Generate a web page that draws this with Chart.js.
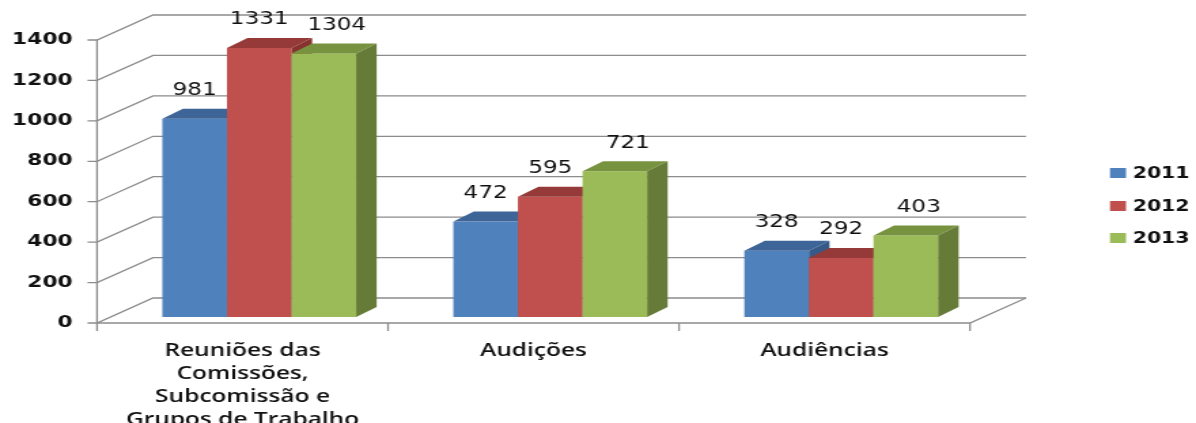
<!DOCTYPE html>
<html>
<head>
<meta charset="utf-8">
<script src="https://cdn.jsdelivr.net/npm/chart.js@4.4.1/dist/chart.umd.min.js"></script>
<style>
  body { margin: 0; background: #fff; }
</style>
</head>
<body>
<canvas id="chart" width="880" height="423" style="display:block;width:1196px;height:423px"></canvas>
<script>
// data
const categories = [
    ["Reuniões das", "Comissões,", "Subcomissão e", "Grupos de Trabalho"],
    "Audições",
    "Audiências"
];
const years = ["2011", "2012", "2013"];
const values2011 = [981, 472, 328];
const values2012 = [1331, 595, 292];
const values2013 = [1304, 721, 403];
const yMin = 0, yMax = 1400, yStep = 200;

// colours: front, top, side
const frontColors = ["#4f81bd", "#c0504d", "#9bbb59"];
const topColors = ["#3d6597", "#953a38", "#78933f"];
const sideColors = ["#365a87", "#87322f", "#667b37"];

// 3d geometry (canvas is stretched horizontally by css)
const wallDX = 41.2, wallDY = -25;   // front plane -> back wall
const barDX = 12.3, barDY = -6;      // bars sit a bit behind the front plane
const depthDX = 15.1, depthDY = -10; // bar depth
const labelDX = [0, 0, 9.5];

const gridColor = "#8c8c8c";

const threeD = {
    id: "threeD",
    beforeDatasetsDraw(chart) {
        const ctx = chart.ctx;
        const ys = chart.scales.y;
        const a = chart.chartArea;
        ctx.save();
        ctx.strokeStyle = gridColor;
        ctx.lineWidth = 1.3;
        // walls: diagonal + back line for every tick
        for (let v = yMin; v <= yMax; v += yStep) {
            const py = ys.getPixelForValue(v);
            ctx.beginPath();
            ctx.moveTo(a.left - 7, py);
            ctx.lineTo(a.left, py);
            ctx.lineTo(a.left + wallDX, py + wallDY);
            ctx.lineTo(a.right + wallDX, py + wallDY);
            ctx.stroke();
        }
        // floor front edge
        const p0 = ys.getPixelForValue(0);
        ctx.beginPath();
        ctx.moveTo(a.left, p0);
        ctx.lineTo(a.right, p0);
        ctx.lineTo(a.right + wallDX, p0 + wallDY);
        ctx.stroke();
        // front axis
        ctx.beginPath();
        ctx.moveTo(a.left, a.top);
        ctx.lineTo(a.left, p0 + 8);
        ctx.stroke();
        // category boundary ticks
        const step = (a.right - a.left) / categories.length;
        for (let i = 1; i <= categories.length; i++) {
            const px = a.left + step * i;
            ctx.beginPath();
            ctx.moveTo(px, p0);
            ctx.lineTo(px, p0 + 8);
            ctx.stroke();
        }
        ctx.restore();
    },
    beforeDatasetDraw() {
        return false;
    },
    afterDatasetsDraw(chart) {
        const ctx = chart.ctx;
        const metas = chart.data.datasets.map((d, i) => chart.getDatasetMeta(i));
        ctx.save();
        for (let c = 0; c < categories.length; c++) {
            metas.forEach((meta, j) => {
                const bar = meta.data[c];
                const p = bar.getProps(["x", "y", "base", "width"], true);
                const l = p.x - p.width / 2 + barDX;
                const r = p.x + p.width / 2 + barDX;
                const t = p.y + barDY;
                const b = p.base + barDY;

                ctx.fillStyle = frontColors[j];
                ctx.fillRect(l, t, r - l, b - t);

                ctx.fillStyle = topColors[j];
                ctx.beginPath();
                ctx.moveTo(l, t);
                ctx.lineTo(r, t);
                ctx.lineTo(r + depthDX, t + depthDY);
                ctx.lineTo(l + depthDX, t + depthDY);
                ctx.closePath();
                ctx.fill();

                ctx.fillStyle = sideColors[j];
                ctx.beginPath();
                ctx.moveTo(r, t);
                ctx.lineTo(r + depthDX, t + depthDY);
                ctx.lineTo(r + depthDX, b + depthDY);
                ctx.lineTo(r, b);
                ctx.closePath();
                ctx.fill();
            });
        }

        // value labels
        ctx.font = "17px 'DejaVu Sans'";
        ctx.fillStyle = "#111";
        ctx.textAlign = "center";
        ctx.textBaseline = "middle";
        metas.forEach((meta, j) => {
            const values = chart.data.datasets[j].data;
            meta.data.forEach((bar, c) => {
                const p = bar.getProps(["x", "y"], true);
                ctx.fillText(String(values[c]), p.x + barDX + labelDX[j], p.y + barDY - 28);
            });
        });

        // legend
        ctx.font = "bold 15px 'DejaVu Sans'";
        ctx.textAlign = "left";
        const rowY = [173, 206, 238];
        chart.data.datasets.forEach((ds, j) => {
            ctx.fillStyle = ds.backgroundColor;
            ctx.fillRect(816.7, rowY[j] - 5, 11.8, 10);
            ctx.fillStyle = "#111";
            ctx.fillText(ds.label, 833.5, rowY[j] + 1);
        });
        ctx.restore();
    }
};

const chart = new Chart(document.getElementById("chart"), {
    type: "bar",
    data: {
        labels: categories,
        datasets: [
            { label: years[0], data: values2011, backgroundColor: frontColors[0] },
            { label: years[1], data: values2012, backgroundColor: frontColors[1] },
            { label: years[2], data: values2013, backgroundColor: frontColors[2] }
        ]
    },
    options: {
        responsive: false,
        devicePixelRatio: 1,
        animation: false,
        layout: { padding: { top: 40, right: 166.3, left: 0, bottom: 0 } },
        datasets: {
            bar: { barPercentage: 1, categoryPercentage: 0.666 }
        },
        plugins: {
            legend: { display: false },
            tooltip: { enabled: false }
        },
        scales: {
            x: {
                grid: { display: false },
                border: { display: false },
                ticks: {
                    color: "#111",
                    padding: 8.5,
                    maxRotation: 0,
                    autoSkip: false,
                    font: { family: "'Open Sans'", size: 18, weight: "600", lineHeight: "23px" }
                },
                afterFit(scale) { scale.height = 100; }
            },
            y: {
                min: yMin,
                max: yMax,
                grid: { display: false, drawTicks: false },
                border: { display: false },
                ticks: {
                    stepSize: yStep,
                    color: "#111",
                    padding: 18,
                    font: { family: "'DejaVu Sans'", size: 16, weight: "bold" },
                    callback: v => String(v)
                },
                afterFit(scale) { scale.width = 71.4; }
            }
        }
    },
    plugins: [threeD]
});
</script>
</body>
</html>
